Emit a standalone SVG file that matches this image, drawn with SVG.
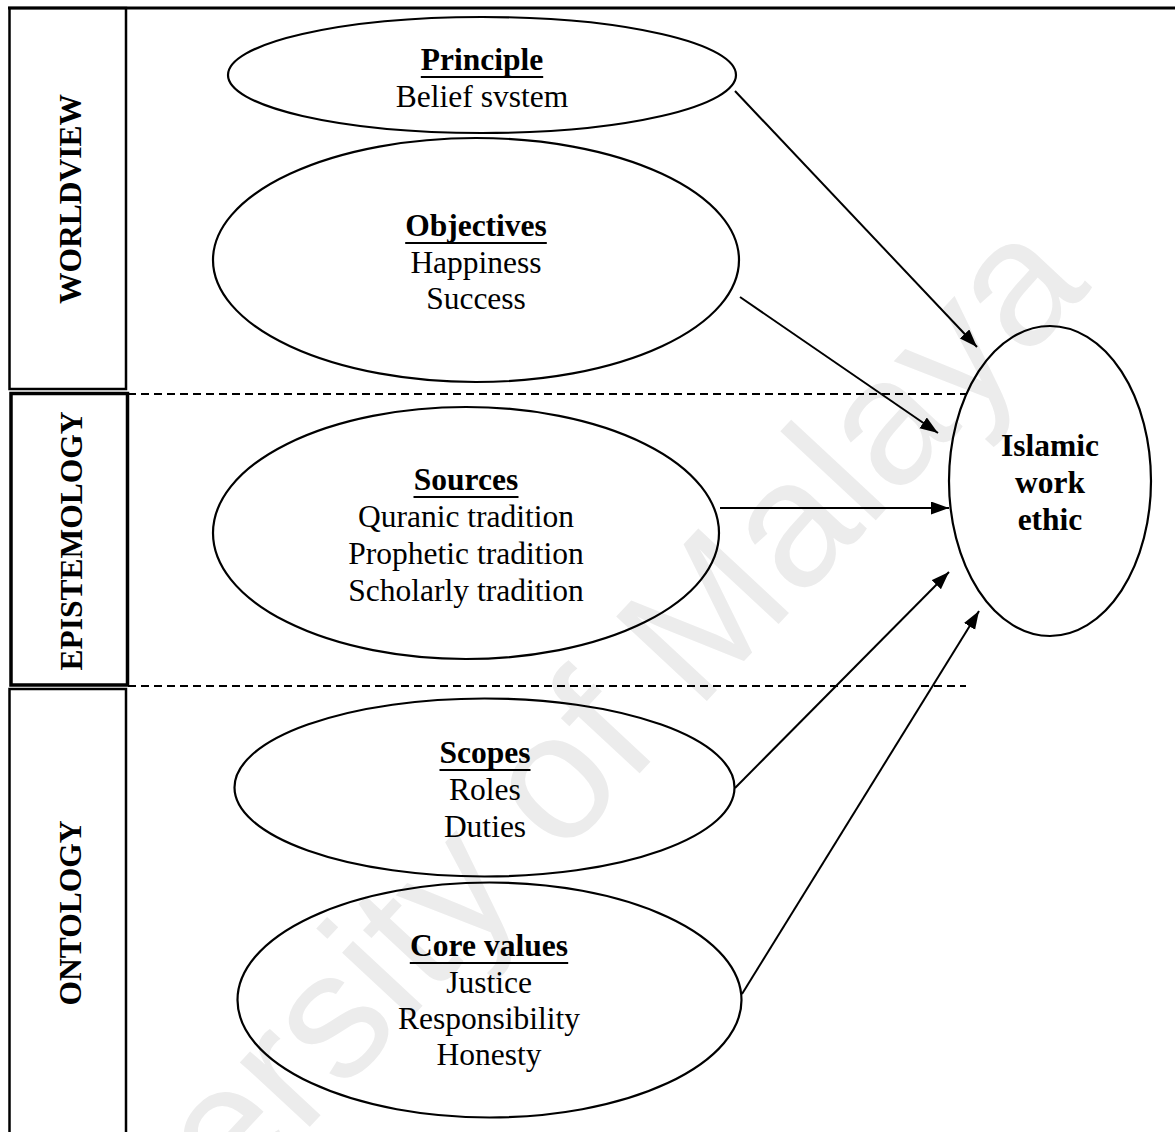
<svg xmlns="http://www.w3.org/2000/svg" width="1175" height="1132" viewBox="0 0 1175 1132">
  <defs>
    <style>
      .bg { fill: #ffffff; }
      .wm { font-family: "Liberation Sans", Arial, sans-serif; font-size: 180px; fill: #ececec; }
      .frame { fill: none; stroke: #000; stroke-width: 2.5; }
      .frame-thick { fill: none; stroke: #000; stroke-width: 3.5; }
      .side { font-family: "Liberation Serif", "Times New Roman", serif; font-size: 31.5px; font-weight: bold; fill: #000; text-anchor: middle; }
      .sep { stroke: #000; stroke-width: 2; stroke-dasharray: 8 5; fill: none; }
      .node { fill: none; stroke: #000; stroke-width: 2.2; }
      .t { font-family: "Liberation Serif", "Times New Roman", serif; font-size: 31.5px; fill: #000; text-anchor: middle; }
      .h { font-weight: bold; }
      .ul { stroke: #000; stroke-width: 2.2; }
      .edge { stroke: #000; stroke-width: 2; fill: none; marker-end: url(#arrow); }
    </style>
    <marker id="arrow" markerUnits="userSpaceOnUse" markerWidth="19" markerHeight="14" refX="18" refY="6.5" orient="auto">
      <path d="M0,0 L18,6.5 L0,13 Z" fill="#000"/>
    </marker>
  </defs>

  <rect class="bg" x="0" y="0" width="1175" height="1132"/>

  <!-- watermark -->
  <text class="wm" x="0" y="0" text-anchor="middle" transform="translate(540,880) rotate(-47)">University of Malaya</text>

  <!-- frame and layer labels -->
  <g id="frame">
    <line x1="8" y1="8" x2="1175" y2="8" stroke="#000" stroke-width="3"/>
  </g>
  <g id="worldview">
    <rect class="frame" x="9.5" y="8" width="116.5" height="381"/>
    <text class="side" transform="translate(81,199) rotate(-90)">WORLDVIEW</text>
  </g>
  <g id="epistemology">
    <rect class="frame-thick" x="11" y="393.5" width="116.5" height="291.5"/>
    <text class="side" transform="translate(82,541) rotate(-90)">EPISTEMOLOGY</text>
  </g>
  <g id="ontology">
    <rect class="frame" x="9.5" y="689" width="116.5" height="470"/>
    <text class="side" transform="translate(81,913) rotate(-90)">ONTOLOGY</text>
  </g>

  <!-- separators -->
  <g id="separators">
    <line class="sep" x1="128" y1="394" x2="966" y2="394"/>
    <line class="sep" x1="128" y1="686" x2="966" y2="686"/>
  </g>

  <!-- nodes -->
  <g id="principle">
    <ellipse class="node" cx="482" cy="75" rx="254" ry="58"/>
    <text class="t h" x="482" y="70">Principle</text>
    <line class="ul" x1="420.8" y1="77" x2="543.2" y2="77"/>
    <text class="t" x="482" y="107">Belief svstem</text>
  </g>
  <g id="objectives">
    <ellipse class="node" cx="476" cy="260" rx="263" ry="122"/>
    <text class="t h" x="476" y="236">Objectives</text>
    <line class="ul" x1="405.2" y1="243" x2="546.8" y2="243"/>
    <text class="t" x="476" y="273">Happiness</text>
    <text class="t" x="476" y="309">Success</text>
  </g>
  <g id="sources">
    <ellipse class="node" cx="466" cy="533" rx="253" ry="126"/>
    <text class="t h" x="466" y="490">Sources</text>
    <line class="ul" x1="413.5" y1="497" x2="518.5" y2="497"/>
    <text class="t" x="466" y="527">Quranic tradition</text>
    <text class="t" x="466" y="564">Prophetic tradition</text>
    <text class="t" x="466" y="601">Scholarly tradition</text>
  </g>
  <g id="scopes">
    <ellipse class="node" cx="484.5" cy="787.5" rx="250" ry="89"/>
    <text class="t h" x="485" y="763">Scopes</text>
    <line class="ul" x1="439.5" y1="770" x2="530.5" y2="770"/>
    <text class="t" x="485" y="800">Roles</text>
    <text class="t" x="485" y="837">Duties</text>
  </g>
  <g id="core-values">
    <ellipse class="node" cx="489.5" cy="1000" rx="252" ry="117.5"/>
    <text class="t h" x="489" y="956">Core values</text>
    <line class="ul" x1="409.8" y1="963" x2="568.2" y2="963"/>
    <text class="t" x="489" y="993">Justice</text>
    <text class="t" x="489" y="1029">Responsibility</text>
    <text class="t" x="489" y="1065">Honesty</text>
  </g>
  <g id="islamic-work-ethic">
    <ellipse class="node" cx="1050" cy="481" rx="101" ry="155"/>
    <text class="t h" x="1050" y="456">Islamic</text>
    <text class="t h" x="1050" y="493">work</text>
    <text class="t h" x="1050" y="530">ethic</text>
  </g>

  <!-- connectors -->
  <g id="connectors">
    <line class="edge" x1="735" y1="91" x2="977" y2="347"/>
    <line class="edge" x1="740" y1="297" x2="938" y2="433"/>
    <line class="edge" x1="720" y1="508" x2="949" y2="508"/>
    <line class="edge" x1="735" y1="788" x2="949" y2="572"/>
    <line class="edge" x1="742" y1="994" x2="979" y2="611"/>
  </g>
</svg>
